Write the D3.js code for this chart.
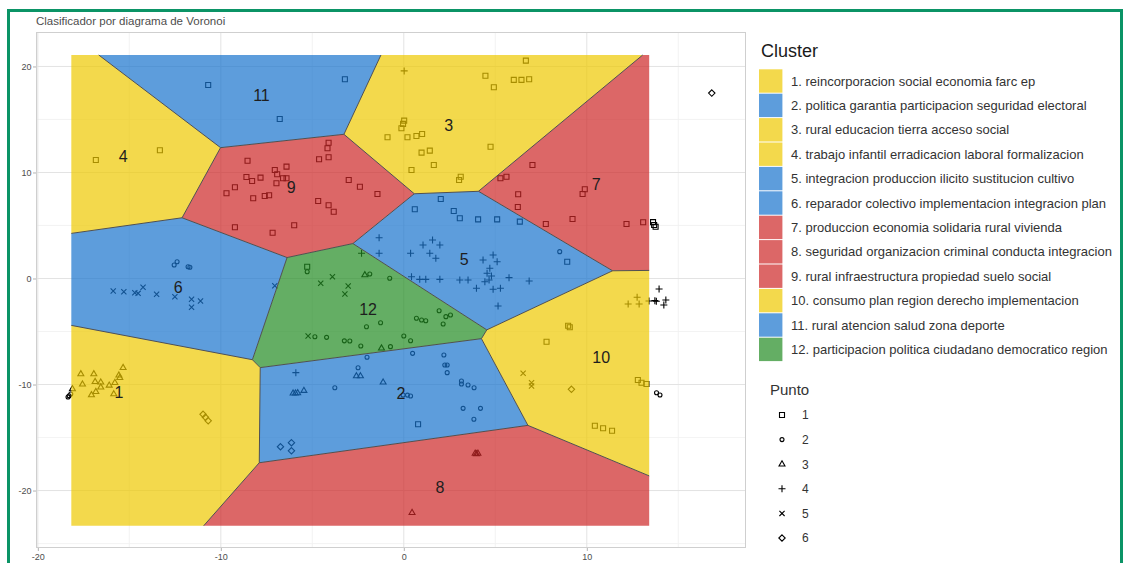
<!DOCTYPE html>
<html>
<head>
<meta charset="utf-8">
<script src="https://cdn.jsdelivr.net/npm/d3@7"></script>
<style>
  body { margin: 0; background: #fff; }
  svg text { font-family: "Liberation Sans", Arial, sans-serif; }
</style>
</head>
<body>
<div id="visual"></div>
<script>
// cluster centres (voronoi seeds) and names
const clusterIds = d3.range(1, 13);
const clusterNames = [
  "reincorporacion social economia farc ep",
  "politica garantia participacion seguridad electoral",
  "rural educacion tierra acceso social",
  "trabajo infantil erradicacion laboral formalizacion",
  "integracion produccion ilicito sustitucion cultivo",
  "reparador colectivo implementacion integracion plan",
  "produccion economia solidaria rural vivienda",
  "seguridad organizacion criminal conducta integracion",
  "rural infraestructura propiedad suelo social",
  "consumo plan region derecho implementacion",
  "rural atencion salud zona deporte",
  "participacion politica ciudadano democratico region"
];
const clusterX = [-15.56, -0.16, 2.46, -15.34, 3.30, -12.33, 10.51, 1.97, -6.16, 10.79, -7.78, -1.95];
const clusterY = [-10.74, -10.83, 14.48, 11.49, 1.81, -0.87, 8.86, -19.70, 8.57, -7.43, 17.25, -2.91];
const clusterGroup = ["yellow", "blue", "yellow", "yellow", "blue", "blue", "red", "red", "red", "yellow", "blue", "green"];

// voronoi extent (data units)
const cellBounds = [-18.17, -23.32, 13.41, 21.08];

// points, one list per "Punto" shape
const punto1 = [
  [-10.69,18.25],[-3.22,18.79],[-6.78,15.05],
  [-16.83,11.18],[-13.33,12.09],
  [-8.54,11.11],[-4.11,12.81],[-4.17,12.28],[-4.11,11.43],[-4.63,11.25],[-7.05,10.24],[-6.41,10.55],
  [-8.60,9.58],[-8.29,9.20],[-7.83,9.51],[-6.92,9.83],[-6.96,8.98],[-6.60,9.45],[-6.41,9.45],
  [-9.23,8.60],[-9.69,8.04],[-8.23,7.57],[-7.60,7.78],[-7.36,7.85],[-4.68,7.31],[-4.11,6.91],
  [-3.83,6.30],[-3.01,9.29],[-2.40,8.66],[-1.44,7.97],[-9.23,4.83],[-7.17,4.32],[-5.99,5.02],
  [4.46,19.13],[4.92,18.04],[6.01,18.73],[6.43,18.73],[6.85,18.79],[6.67,20.55],[0.02,14.89],
  [-0.04,14.58],[-0.13,14.17],[-0.89,13.32],[0.20,13.32],[0.69,13.44],[1.00,13.63],[0.97,11.87],
  [1.42,12.06],[4.74,12.43],[1.64,10.71],[0.42,10.24],[3.02,9.29],[3.11,9.60],
  [7.03,10.71],[5.28,9.45],[5.61,9.60],[6.25,7.94],[9.89,8.42],[9.77,7.97],[9.22,5.61],
  [12.17,5.14],[13.08,5.30],[6.23,6.75],
  [13.68,5.05],[13.62,5.32],[13.76,4.88],
  [0.60,6.53],[2.73,6.37],[3.06,5.68],[4.06,5.58],[5.10,5.58],[6.34,5.36],[7.76,5.14],[2.02,7.50],[8.93,1.58],
  [-5.28,1.11],
  [0.78,-13.75],
  [10.44,-13.89],[10.89,-14.13],[11.38,-14.36],[12.99,-9.83],[13.26,-9.95],[7.80,-5.96],
  [8.98,-4.45],[9.07,-4.60],[12.79,-9.58]
];
const punto2 = [
  [-5.28,0.64],[-1.86,0.42],[-0.77,0.02],[0.69,-3.75],[0.97,-3.92],[1.20,-3.98],[1.93,-3.04],
  [2.30,-3.60],[2.55,-3.44],[2.15,-4.29],[-2.04,-4.55],[-1.27,-4.17],[-4.86,-5.49],[-4.22,-5.55],
  [-2.95,-5.90],[-3.25,-5.88],[-2.35,-6.37],[-0.73,-6.43],[0.00,-5.42],[0.37,-5.87],
  [-12.55,1.27],[-12.39,1.58],[-11.79,1.11],[-11.69,1.06],
  [-3.77,-10.30],[-2.50,-8.42],[-2.01,-7.43],[0.48,-7.06],[2.19,-7.22],[2.24,-8.16],[2.37,-8.16],
  [2.37,-8.88],[3.15,-9.67],[3.15,-9.95],[3.51,-10.05],[3.84,-10.30],[3.24,-12.25],[4.19,-12.25],
  [3.83,-13.28],[0.37,-11.08],[-0.04,-10.99],[0.20,-11.00],
  [8.52,2.53],
  [-18.29,-11.06],[-18.20,-10.90],[-18.35,-11.18],
  [13.81,-10.77],[14.00,-10.99]
];
const punto3 = [
  [-17.65,-9.01],[-16.94,-9.01],[-15.34,-8.42],[-15.57,-9.13],[-15.52,-9.36],[-17.56,-9.98],
  [-16.87,-9.74],[-16.56,-9.79],[-16.56,-10.26],[-16.10,-10.08],[-15.79,-9.83],[-16.83,-10.68],
  [-17.07,-10.99],[-15.85,-10.90],[-18.11,-10.42],
  [-6.05,-10.83],[-5.92,-10.83],[-5.80,-10.80],[-5.46,-10.58],[-2.59,-9.20],[-2.37,-9.20],[-1.13,-9.79],
  [-2.13,0.33],[-1.22,-6.58],
  [3.97,-16.56],[3.90,-16.50],[4.05,-16.50],[0.45,-22.09]
];
const punto4 = [
  [0.02,19.58],
  [-1.35,3.85],[-1.35,2.38],[0.37,2.38],[1.05,3.16],[1.57,3.63],[1.97,3.16],[1.42,2.38],[1.75,1.91],
  [0.42,0.17],[0.87,-0.08],[1.20,-0.08],[1.97,-0.08],[3.06,-0.14],[3.51,-0.14],[4.33,1.75],[4.88,2.22],
  [5.10,1.58],[4.70,0.96],[4.55,0.49],[4.79,0.24],[4.66,-0.14],[4.43,-0.30],[3.97,-0.92],[4.88,-1.02],
  [5.28,-0.92],[5.75,0.08],[6.85,-0.24],[5.15,-2.59],
  [-2.31,2.38],[-5.90,-8.88],
  [12.75,-1.77],[12.26,-2.41],[12.86,-2.41],[13.40,-2.12],
  [13.95,-0.99],[13.72,-2.09],[13.80,-2.15],[14.32,-2.03],[14.21,-2.50]
];
const punto5 = [
  [-15.88,-1.18],[-15.30,-1.25],[-14.70,-1.34],[-14.52,-1.40],[-14.25,-0.83],[-13.51,-1.49],
  [-12.51,-1.72],[-11.60,-1.96],[-11.11,-2.12],[-11.60,-2.72],[-7.05,-0.68],
  [-4.54,-0.45],[-3.90,0.17],[-3.04,-0.71],[-3.22,-1.46],[-5.23,-5.42],
  [6.98,-9.83],[6.98,-10.14],[6.52,-8.94]
];
const punto6 = [
  [-10.97,-12.81],[-10.84,-13.09],[-10.69,-13.42],
  [-6.74,-15.87],[-6.14,-15.49],[-6.14,-16.25],
  [9.16,-10.45],
  [16.83,17.49]
];
const puntoLists = [punto1, punto2, punto3, punto4, punto5, punto6];

const xMajor = [-20, -10, 0, 10], xMinor = [-15, -5, 5, 15];
const yMajor = [-20, -10, 0, 10, 20], yMinor = [-25, -15, -5, 5, 15];

const COLORS = {
  yellow: "#EEC900",
  blue: "#1874CD",
  red: "#CD2626",
  green: "#228B22"
};
const FILL_OPACITY = 0.7;

// shapes drawn with stroke only (ggplot shapes 0..5)
const shapeTypes = [
  {draw(c, r) { c.rect(-r, -r, 2 * r, 2 * r); }},
  {draw(c, r) { c.moveTo(r, 0); c.arc(0, 0, r, 0, 2 * Math.PI); }},
  {draw(c, r) { c.moveTo(0, -r * 1.25); c.lineTo(r * 1.1, r * 0.65); c.lineTo(-r * 1.1, r * 0.65); c.closePath(); }},
  {draw(c, r) { c.moveTo(-r, 0); c.lineTo(r, 0); c.moveTo(0, -r); c.lineTo(0, r); }},
  {draw(c, r) { c.moveTo(-r, -r); c.lineTo(r, r); c.moveTo(-r, r); c.lineTo(r, -r); }},
  {draw(c, r) { c.moveTo(0, -r); c.lineTo(r, 0); c.lineTo(0, r); c.lineTo(-r, 0); c.closePath(); }}
];
const shapeSize = [2.5, 2.0, 2.7, 3.5, 2.6, 3.2];

const width = 1125, height = 563;
const panel = {left: 36, right: 746, top: 32, bottom: 548};

const svg = d3.select("#visual").append("svg")
  .attr("width", width)
  .attr("height", height);

const x = d3.scaleLinear().domain([-20.1, 18.7]).range([panel.left, panel.right]);
const y = d3.scaleLinear().domain([-25.42, 23.25]).range([panel.bottom, panel.top]);

// outer green frame
svg.append("rect")
  .attr("x", 8.5).attr("y", 10.5)
  .attr("width", 1113).attr("height", 600)
  .style("fill", "none")
  .style("stroke", "#0b9466")
  .style("stroke-width", 3);

// title
svg.append("text")
  .attr("x", 36).attr("y", 24.5)
  .style("font-size", "11.5px")
  .style("fill", "#4d4d4d")
  .text("Clasificador por diagrama de Voronoi");

// grid
const grid = svg.append("g");
grid.selectAll(".xminor").data(xMinor).enter().append("line")
  .attr("x1", d => x(d)).attr("x2", d => x(d))
  .attr("y1", panel.top).attr("y2", panel.bottom)
  .style("stroke", "#f0f0f0").style("stroke-width", 0.8);
grid.selectAll(".yminor").data(yMinor).enter().append("line")
  .attr("y1", d => y(d)).attr("y2", d => y(d))
  .attr("x1", panel.left).attr("x2", panel.right)
  .style("stroke", "#f0f0f0").style("stroke-width", 0.8);
grid.selectAll(".xmajor").data(xMajor).enter().append("line")
  .attr("x1", d => x(d)).attr("x2", d => x(d))
  .attr("y1", panel.top).attr("y2", panel.bottom)
  .style("stroke", "#e3e3e3").style("stroke-width", 1);
grid.selectAll(".ymajor").data(yMajor).enter().append("line")
  .attr("y1", d => y(d)).attr("y2", d => y(d))
  .attr("x1", panel.left).attr("x2", panel.right)
  .style("stroke", "#e3e3e3").style("stroke-width", 1);

// panel border
svg.append("rect")
  .attr("x", panel.left + 0.5).attr("y", panel.top + 0.5)
  .attr("width", panel.right - panel.left - 1)
  .attr("height", panel.bottom - panel.top - 1)
  .style("fill", "none")
  .style("stroke", "#cfcfcf")
  .style("stroke-width", 1);

// axes
svg.append("g")
  .attr("transform", "translate(0," + panel.bottom + ")")
  .call(d3.axisBottom(x).tickValues(xMajor).tickSize(3).tickPadding(3).tickFormat(d => String(d)))
  .call(g => g.select(".domain").remove())
  .call(g => g.selectAll("line").style("stroke", "#b3b3b3"))
  .call(g => g.selectAll("text").style("fill", "#4d4d4d").style("font-size", "9px")
    .style("font-family", "Liberation Sans, Arial, sans-serif"));

svg.append("g")
  .attr("transform", "translate(" + panel.left + ",0)")
  .call(d3.axisLeft(y).tickValues(yMajor).tickSize(3).tickPadding(1.5).tickFormat(d => String(d)))
  .call(g => g.select(".domain").remove())
  .call(g => g.selectAll("line").style("stroke", "#b3b3b3"))
  .call(g => g.selectAll("text").style("fill", "#4d4d4d").style("font-size", "9px")
    .style("font-family", "Liberation Sans, Arial, sans-serif"));

// points (under the translucent cells)
const pointData = [];
puntoLists.forEach((list, k) => list.forEach(p => pointData.push({x: p[0], y: p[1], punto: k})));

svg.append("g").selectAll("path")
  .data(pointData)
  .enter()
  .append("path")
  .attr("transform", d => "translate(" + x(d.x) + "," + y(d.y) + ")")
  .attr("d", d => d3.symbol().type(shapeTypes[d.punto]).size(shapeSize[d.punto])())
  .style("fill", "none")
  .style("stroke", "#000")
  .style("stroke-width", 1.1);

// voronoi cells computed in data space, drawn through the scales
const delaunay = d3.Delaunay.from(clusterIds.map((d, i) => i), i => clusterX[i], i => clusterY[i]);
const voronoi = delaunay.voronoi(cellBounds);

function scaledContext(p) {
  return {
    moveTo: (a, b) => p.moveTo(x(a), y(b)),
    lineTo: (a, b) => p.lineTo(x(a), y(b)),
    closePath: () => p.closePath()
  };
}

svg.append("g").selectAll("path")
  .data(clusterIds.map((d, i) => i))
  .enter()
  .append("path")
  .attr("d", i => {
    const p = d3.path();
    voronoi.renderCell(i, scaledContext(p));
    return p.toString();
  })
  .style("fill", i => COLORS[clusterGroup[i]])
  .style("fill-opacity", FILL_OPACITY)
  .style("stroke", "none");

const edges = d3.path();
voronoi.render(scaledContext(edges));
svg.append("path")
  .attr("d", edges.toString())
  .style("fill", "none")
  .style("stroke", "#505050")
  .style("stroke-width", 1);

// cluster numbers at the seeds
svg.append("g").selectAll("text")
  .data(clusterIds.map((d, i) => i))
  .enter()
  .append("text")
  .attr("x", i => x(clusterX[i]))
  .attr("y", i => y(clusterY[i]))
  .attr("dy", "0.36em")
  .attr("text-anchor", "middle")
  .style("font-size", "16px")
  .style("fill", "#1e1e1e")
  .text(i => clusterIds[i]);

// legend: cluster
const legend = svg.append("g");
legend.append("text")
  .attr("x", 761).attr("y", 56.5)
  .style("font-size", "18px")
  .style("fill", "#1a1a1a")
  .text("Cluster");

const keyH = 24.4;
const keys = legend.selectAll(".key")
  .data(clusterIds.map((d, i) => i))
  .enter().append("g")
  .attr("transform", i => "translate(759," + (69.3 + i * keyH) + ")");
keys.append("rect")
  .attr("width", 23.4).attr("height", keyH - 1)
  .style("fill", i => COLORS[clusterGroup[i]])
  .style("fill-opacity", FILL_OPACITY);
keys.append("text")
  .attr("x", 32).attr("y", keyH / 2 + 4.2)
  .style("font-size", "13px")
  .style("fill", "#333")
  .text(i => clusterIds[i] + ". " + clusterNames[i]);

// legend: punto
legend.append("text")
  .attr("x", 770).attr("y", 394.5)
  .style("font-size", "15px")
  .style("fill", "#333")
  .text("Punto");

const pkeys = legend.selectAll(".pkey")
  .data(d3.range(6))
  .enter().append("g")
  .attr("transform", k => "translate(782," + (415 + k * 24.6) + ")");
pkeys.append("path")
  .attr("d", k => d3.symbol().type(shapeTypes[k]).size(shapeSize[k])())
  .style("fill", "none")
  .style("stroke", "#000")
  .style("stroke-width", 1.1);
pkeys.append("text")
  .attr("x", 20).attr("y", 4.3)
  .style("font-size", "12px")
  .style("fill", "#333")
  .text(k => k + 1);
</script>
</body>
</html>
